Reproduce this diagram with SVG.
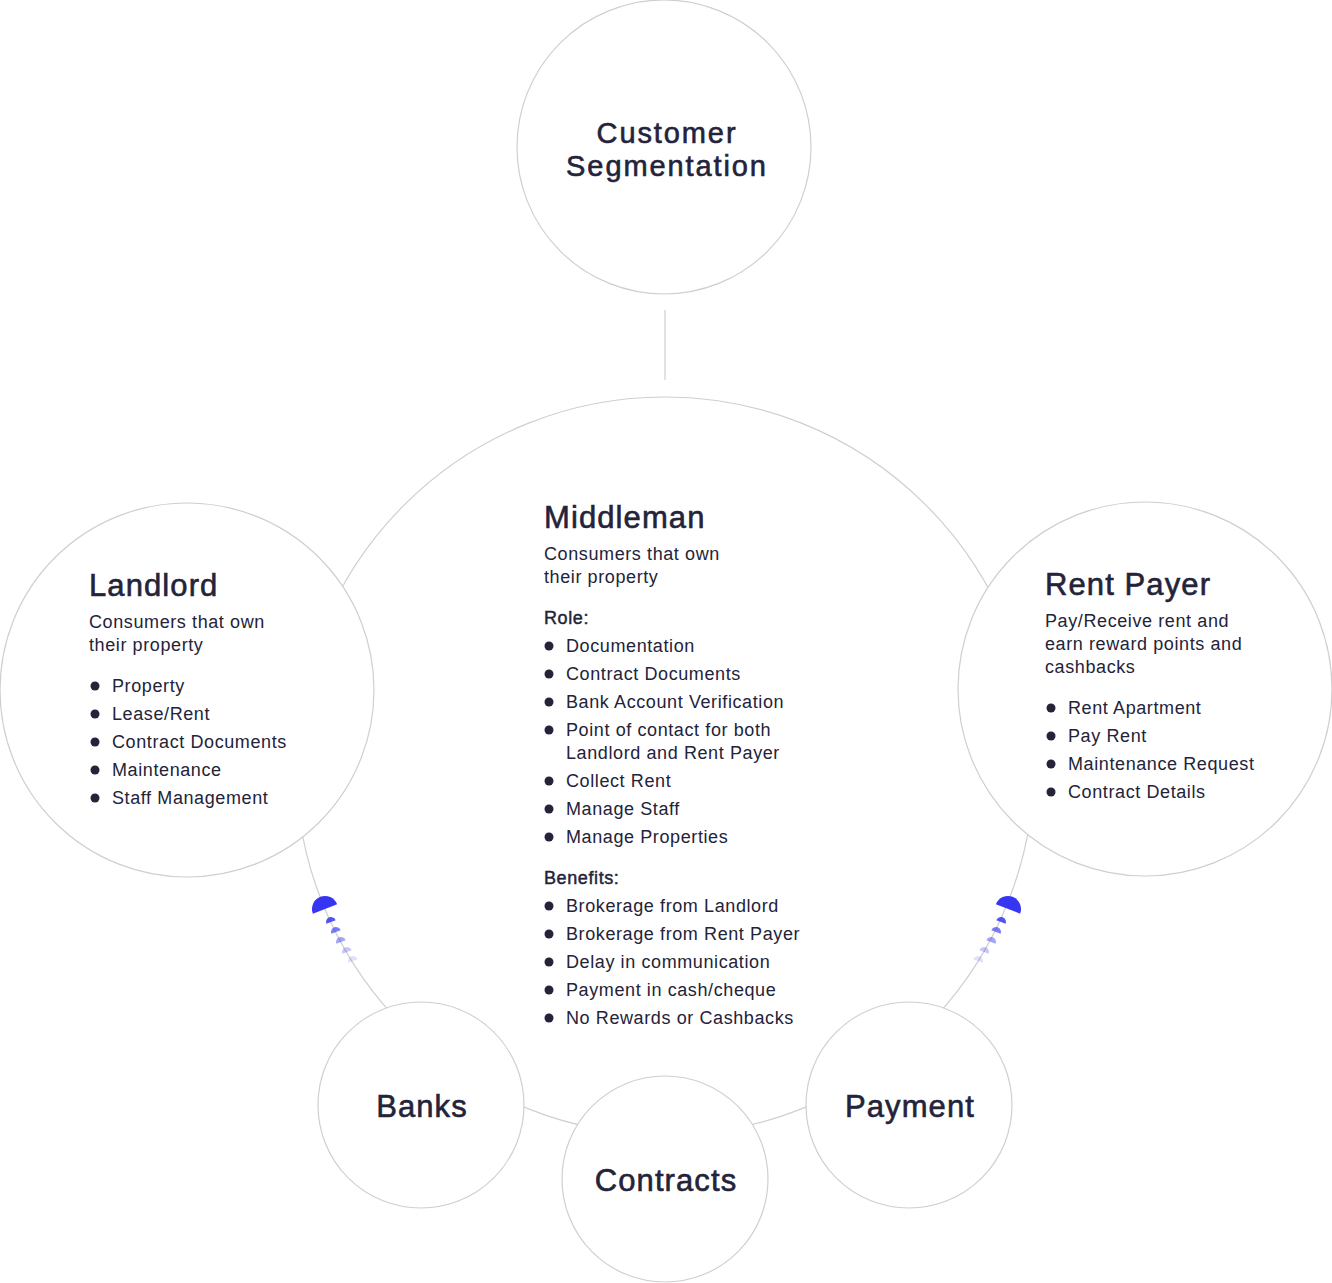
<svg xmlns="http://www.w3.org/2000/svg" width="1332" height="1283" viewBox="0 0 1332 1283">
<style>
.c{fill:#fff;stroke:#cfcfcf;stroke-width:1.2}
.ring{fill:none;stroke:#cfcfcf;stroke-width:1.2}
text{font-family:"Liberation Sans",Arial,sans-serif;fill:#23233a}
.t{font-size:31px;letter-spacing:1.1px;stroke:#23233a;stroke-width:0.6}
.cs{font-size:29px;letter-spacing:1.9px}
.b{font-size:18px;letter-spacing:0.6px}
.h{font-size:18px;letter-spacing:0.6px;stroke:#23233a;stroke-width:0.45}
.d{fill:#23233a}
.m{fill:#3535f2}
</style>
<defs>
<path id="semi" d="M-13,0 A13,13 0 0 1 13,0 Z"/>
<path id="semis" d="M-5,0 A5,5 0 0 1 5,0 Z"/>
</defs>
<rect width="1332" height="1283" fill="#fff"/>
<g id="connectors">
<circle class="ring" cx="665" cy="766" r="369"/>
<line x1="665" y1="310" x2="665" y2="380" stroke="#cfcfcf" stroke-width="1.2"/>
<g id="marker-left">
<use href="#semi" class="m" transform="translate(325,909) rotate(-21)"/>
<use href="#semis" class="m" opacity="0.85" transform="translate(331,922) rotate(-21)"/>
<use href="#semis" class="m" opacity="0.65" transform="translate(336,932) rotate(-21)"/>
<use href="#semis" class="m" opacity="0.45" transform="translate(341,942) rotate(-21)"/>
<use href="#semis" class="m" opacity="0.28" transform="translate(347,952) rotate(-21)"/>
<use href="#semis" class="m" opacity="0.15" transform="translate(353,961) rotate(-21)"/>
</g>
<g id="marker-right">
<use href="#semi" class="m" transform="translate(1008,909) rotate(21)"/>
<use href="#semis" class="m" opacity="0.85" transform="translate(1001,922) rotate(21)"/>
<use href="#semis" class="m" opacity="0.65" transform="translate(996,932) rotate(21)"/>
<use href="#semis" class="m" opacity="0.45" transform="translate(991,942) rotate(21)"/>
<use href="#semis" class="m" opacity="0.28" transform="translate(984,952) rotate(21)"/>
<use href="#semis" class="m" opacity="0.15" transform="translate(978,961) rotate(21)"/>
</g>
</g>
<g id="customer-segmentation">
<circle class="c" cx="664" cy="147" r="147"/>
<text class="t cs" x="667" y="143" text-anchor="middle">Customer</text>
<text class="t cs" x="667" y="176" text-anchor="middle">Segmentation</text>
</g>
<g id="middleman">
<text class="t" x="544" y="528">Middleman</text>
<text class="b" x="544" y="560">Consumers that own</text>
<text class="b" x="544" y="583">their property</text>
<text class="h" x="544" y="624">Role:</text>
<circle class="d" cx="549" cy="646" r="4.5"/><text class="b" x="566" y="652">Documentation</text>
<circle class="d" cx="549" cy="674" r="4.5"/><text class="b" x="566" y="680">Contract Documents</text>
<circle class="d" cx="549" cy="702" r="4.5"/><text class="b" x="566" y="708">Bank Account Verification</text>
<circle class="d" cx="549" cy="730" r="4.5"/><text class="b" x="566" y="736">Point of contact for both</text>
<text class="b" x="566" y="759">Landlord and Rent Payer</text>
<circle class="d" cx="549" cy="781" r="4.5"/><text class="b" x="566" y="787">Collect Rent</text>
<circle class="d" cx="549" cy="809" r="4.5"/><text class="b" x="566" y="815">Manage Staff</text>
<circle class="d" cx="549" cy="837" r="4.5"/><text class="b" x="566" y="843">Manage Properties</text>
<text class="h" x="544" y="884">Benefits:</text>
<circle class="d" cx="549" cy="906" r="4.5"/><text class="b" x="566" y="912">Brokerage from Landlord</text>
<circle class="d" cx="549" cy="934" r="4.5"/><text class="b" x="566" y="940">Brokerage from Rent Payer</text>
<circle class="d" cx="549" cy="962" r="4.5"/><text class="b" x="566" y="968">Delay in communication</text>
<circle class="d" cx="549" cy="990" r="4.5"/><text class="b" x="566" y="996">Payment in cash/cheque</text>
<circle class="d" cx="549" cy="1018" r="4.5"/><text class="b" x="566" y="1024">No Rewards or Cashbacks</text>
</g>
<g id="landlord">
<circle class="c" cx="187" cy="690" r="187"/>
<text class="t" x="89" y="596">Landlord</text>
<text class="b" x="89" y="628">Consumers that own</text>
<text class="b" x="89" y="651">their property</text>
<circle class="d" cx="95" cy="686" r="4.5"/><text class="b" x="112" y="692">Property</text>
<circle class="d" cx="95" cy="714" r="4.5"/><text class="b" x="112" y="720">Lease/Rent</text>
<circle class="d" cx="95" cy="742" r="4.5"/><text class="b" x="112" y="748">Contract Documents</text>
<circle class="d" cx="95" cy="770" r="4.5"/><text class="b" x="112" y="776">Maintenance</text>
<circle class="d" cx="95" cy="798" r="4.5"/><text class="b" x="112" y="804">Staff Management</text>
</g>
<g id="rent-payer">
<circle class="c" cx="1145" cy="689" r="187"/>
<text class="t" x="1045" y="595">Rent Payer</text>
<text class="b" x="1045" y="627">Pay/Receive rent and</text>
<text class="b" x="1045" y="650">earn reward points and</text>
<text class="b" x="1045" y="673">cashbacks</text>
<circle class="d" cx="1051" cy="708" r="4.5"/><text class="b" x="1068" y="714">Rent Apartment</text>
<circle class="d" cx="1051" cy="736" r="4.5"/><text class="b" x="1068" y="742">Pay Rent</text>
<circle class="d" cx="1051" cy="764" r="4.5"/><text class="b" x="1068" y="770">Maintenance Request</text>
<circle class="d" cx="1051" cy="792" r="4.5"/><text class="b" x="1068" y="798">Contract Details</text>
</g>
<g id="banks">
<circle class="c" cx="421" cy="1105" r="103"/>
<text class="t" x="422" y="1117" text-anchor="middle">Banks</text>
</g>
<g id="contracts">
<circle class="c" cx="665" cy="1179" r="103"/>
<text class="t" x="666" y="1191" text-anchor="middle">Contracts</text>
</g>
<g id="payment">
<circle class="c" cx="909" cy="1105" r="103"/>
<text class="t" x="910" y="1117" text-anchor="middle">Payment</text>
</g>
</svg>
